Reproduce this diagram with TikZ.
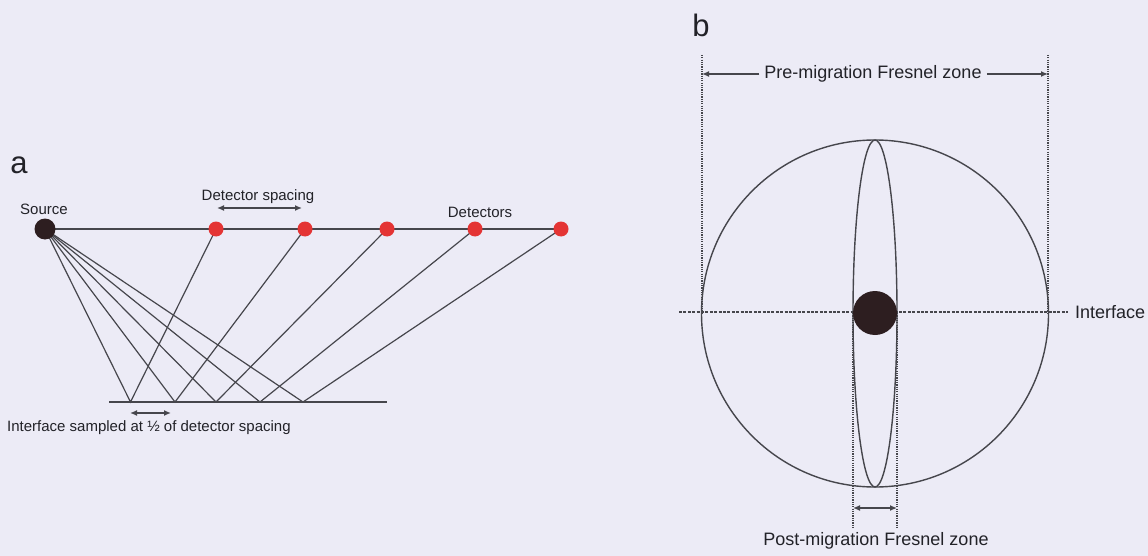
\documentclass[tikz,border=0pt]{standalone}
\usepackage{fontspec}
\setmainfont{Liberation Sans}
\usetikzlibrary{arrows.meta,shapes.geometric,backgrounds}
\definecolor{bg}{RGB}{236,235,246}
\definecolor{ln}{RGB}{70,70,76}
\definecolor{txt}{RGB}{34,34,40}
\definecolor{det}{RGB}{228,52,52}
\definecolor{blob}{RGB}{45,30,32}
\begin{document}
\begin{tikzpicture}[x=1pt,y=-1pt,
  ray/.style={draw=ln, line width=1.2pt},
  lbl/.style={text=txt, inner sep=0pt, font=\fontsize{15}{15}\selectfont},
  lblb/.style={text=txt, inner sep=0pt, font=\fontsize{18}{18}\selectfont},
  panel/.style={text=txt, inner sep=0pt, font=\fontsize{31}{31}\selectfont},
  detector/.style={circle, fill=det, minimum size=15pt, inner sep=0pt},
  dimarrow/.style={draw=ln, line width=1.3pt, {Latex[length=7pt,width=6pt]}-{Latex[length=7pt,width=6pt]}},
  onearrow/.style={draw=ln, line width=1.3pt, -{Latex[length=7pt,width=6pt]}},
  fine/.style={draw=ln, line width=1.6pt, dash pattern=on 1.2pt off 1.1pt},
  iface/.style={draw=ln, line width=1.8pt, dash pattern=on 3pt off 1.4pt}]
\useasboundingbox (0,0) rectangle (1148,556);
% ---------- panel a ----------
\node[panel] (la) at (19,165) {a};
\node[circle, fill=blob, minimum size=21pt, inner sep=0pt] (src) at (45,229) {};
\node[lbl] (srclbl) at (44,209) {Source};
\foreach \i/\x in {1/216,2/305,3/387,4/475,5/561}{
  \node[detector] (d\i) at (\x,229) {};
  \coordinate (r\i) at ({(45+\x)/2},402);
}
\begin{scope}[on background layer]
  \fill[bg] (0,0) rectangle (1148,556);
  \draw[ray] (src.center) -- (d5.center);
  \foreach \i in {1,...,5}{
    \draw[ray] (src.center) -- (r\i) -- (d\i.center);
  }
\end{scope}
\coordinate (ia1) at (109,402);
\coordinate (ia2) at (387,402);
\draw[ray] (ia1) -- (ia2);
\coordinate (ds1) at (217,208);
\coordinate (ds2) at (302,208);
\draw[dimarrow] (ds1) -- (ds2);
\node[lbl] (dslbl) at (258,197) {Detector spacing};
\node[lbl] (detlbl) at (480,212) {Detectors};
\coordinate (hs1) at (130,413);
\coordinate (hs2) at (171,413);
\draw[dimarrow] (hs1) -- (hs2);
\node[lbl, anchor=west] (islbl) at (7,428) {Interface sampled at ½ of detector spacing};
% ---------- panel b ----------
\node[panel] (lb) at (701,25) {b};
\node[circle, draw=ln, line width=1.4pt, minimum size=347pt, inner sep=0pt] (wf) at (875,313.5) {};
\node[ellipse, draw=ln, line width=1.4pt, minimum width=44pt, minimum height=347pt, inner sep=0pt] (lens) at (875,313.5) {};
\coordinate (pl1) at (702,55);
\coordinate (pl2) at (702,313);
\coordinate (pr1) at (1048,55);
\coordinate (pr2) at (1048,313);
\draw[fine] (pl1) -- (pl2);
\draw[fine] (pr1) -- (pr2);
\coordinate (ql1) at (853,313);
\coordinate (ql2) at (853,528);
\coordinate (qr1) at (897,313);
\coordinate (qr2) at (897,528);
\draw[fine] (ql1) -- (ql2);
\draw[fine] (qr1) -- (qr2);
\coordinate (if1) at (679,312);
\coordinate (if2) at (1068,312);
\draw[iface] (if1) -- (if2);
\node[circle, fill=blob, minimum size=44pt, inner sep=0pt] (pt) at (875,313) {};
\node[lblb, anchor=west] (iflbl) at (1075,312) {Interface};
\node[lblb, inner xsep=5pt] (prelbl) at (873,74) {Pre-migration Fresnel zone};
\coordinate (pa1) at (702,74);
\coordinate (pa2) at (1048,74);
\draw[onearrow] (prelbl.west) -- (pa1);
\draw[onearrow] (prelbl.east) -- (pa2);
\coordinate (qa1) at (853,508);
\coordinate (qa2) at (897,508);
\draw[dimarrow] (qa1) -- (qa2);
\node[lblb] (postlbl) at (876,541) {Post-migration Fresnel zone};
\end{tikzpicture}
\end{document}
